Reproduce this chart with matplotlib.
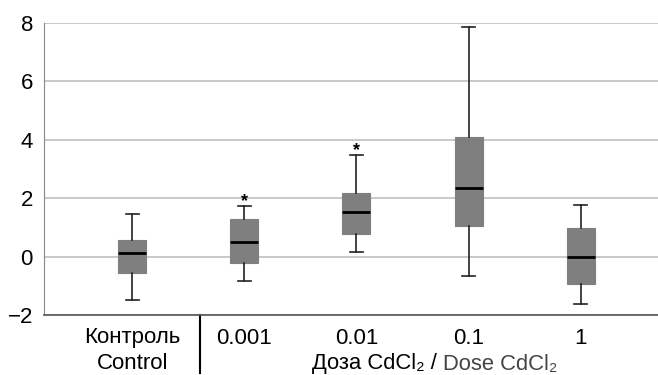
import matplotlib.pyplot as plt

plt.rcParams['font.family'] = ['Liberation Sans', 'DejaVu Sans']

groups = ['Контроль\nControl', '0.001', '0.01', '0.1', '1']
whislo = [-1.49, -0.82, 0.15, -0.68, -1.63]
q1 = [-0.57, -0.23, 0.77, 1.06, -0.94]
med = [0.12, 0.49, 1.54, 2.35, 0.0]
q3 = [0.58, 1.28, 2.18, 4.09, 0.97]
whishi = [1.46, 1.74, 3.48, 7.86, 1.78]
signif = [False, True, True, False, False]

stats = []
for i in range(len(groups)):
    stats.append(dict(whislo=whislo[i], q1=q1[i], med=med[i], q3=q3[i], whishi=whishi[i], fliers=[]))

fig = plt.figure(figsize=(6.58, 3.75), dpi=100)
ax = fig.add_axes([44/658, 1 - 315/375, 1 - 44/658, (315 - 22.7)/375])

pos = [1, 2, 3, 4, 5]
ax.bxp(stats, positions=pos, widths=0.25, patch_artist=True, showfliers=False,
       boxprops=dict(facecolor='#7f7f7f', edgecolor='#7f7f7f', linewidth=0.8),
       medianprops=dict(color='black', linewidth=2),
       whiskerprops=dict(color='#222222', linewidth=1.2),
       capprops=dict(color='#222222', linewidth=1.2), capwidths=0.12, zorder=3)

for p, s, hi in zip(pos, signif, whishi):
    if s:
        ax.text(p, hi + 0.14, '*', ha='center', va='center', fontsize=13, fontweight='bold')

ax.set_ylim(-2, 8)
ax.set_xlim(0.213, 5.69)
ax.set_yticks([-2, 0, 2, 4, 6, 8])
ax.set_yticklabels(['\u22122', '0', '2', '4', '6', '8'], fontsize=16)
ax.yaxis.grid(True, color='#c0c0c0', linewidth=1.2, zorder=0)
ax.set_axisbelow(True)
ax.tick_params(axis='y', length=0, pad=8)
ax.tick_params(axis='x', length=0, pad=9, labelsize=16)
ax.set_xticks(pos)
ax.set_xticklabels(groups, linespacing=1.3)
for lab in ax.get_xticklabels():
    lab.set_verticalalignment('top')

ax.spines['top'].set_visible(False)
ax.spines['right'].set_visible(False)
ax.spines['left'].set_color('#888888')
ax.spines['bottom'].set_color('#555555')
ax.spines['bottom'].set_linewidth(1.2)

# separator between control and doses
sep_x = (200 - 44) / 111.75 + 0.213
ax.plot([sep_x, sep_x], [-2, -4], color='black', linewidth=1.5, clip_on=False)

fig.text(443/658, 1 - 364/375, 'Доза CdCl₂ / ', ha='right', va='center', fontsize=15.8)
fig.text(443/658, 1 - 364/375, 'Dose CdCl₂', ha='left', va='center', fontsize=15.8, color='#444444')

fig.savefig('out.png', dpi=100)
